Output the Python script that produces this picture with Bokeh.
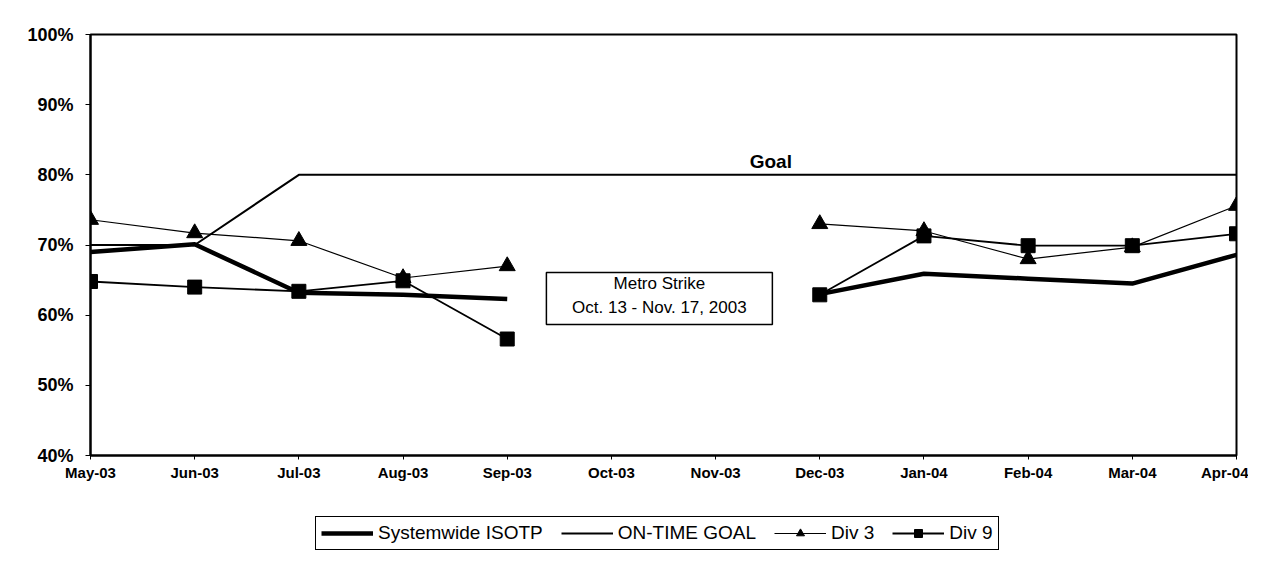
from bokeh.plotting import figure
from bokeh.layouts import column
from bokeh.models import (ColumnDataSource, FixedTicker, NumeralTickFormatter,
                          Range1d, Legend, LegendItem, Label, BoxAnnotation)
from bokeh.embed import file_html
from bokeh.resources import INLINE

nan = float("nan")
months = ["May-03", "Jun-03", "Jul-03", "Aug-03", "Sep-03", "Oct-03",
          "Nov-03", "Dec-03", "Jan-04", "Feb-04", "Mar-04", "Apr-04"]
systemwide = [0.690, 0.701, 0.632, 0.629, 0.623, nan, nan, 0.630, 0.659, 0.652, 0.645, 0.686]
goal = [0.70, 0.70, 0.80, 0.80, 0.80, 0.80, 0.80, 0.80, 0.80, 0.80, 0.80, 0.80]
div3 = [0.736, 0.717, 0.706, 0.653, 0.670, nan, nan, 0.730, 0.720, 0.680, 0.697, 0.756]
div9 = [0.648, 0.640, 0.634, 0.649, 0.566, nan, nan, 0.629, 0.713, 0.699, 0.699, 0.716]
y_ticks = [0.4, 0.5, 0.6, 0.7, 0.8, 0.9, 1.0]
series_names = ["Systemwide ISOTP", "ON-TIME GOAL", "Div 3", "Div 9"]

xs = list(range(len(months)))
src = ColumnDataSource(dict(x=xs, sys=systemwide, goal=goal, d3=div3, d9=div9))

FONT = "Liberation Sans"


def draw_series(fig):
    r_sys = fig.line("x", "sys", source=src, line_color="black", line_width=4.5)
    r_goal = fig.line("x", "goal", source=src, line_color="black", line_width=2)
    r_d3l = fig.line("x", "d3", source=src, line_color="black", line_width=1.2)
    r_d3m = fig.scatter("x", "d3", source=src, marker="triangle", size=16,
                        fill_color="black", line_color="black")
    r_d9l = fig.line("x", "d9", source=src, line_color="black", line_width=1.8)
    r_d9m = fig.scatter("x", "d9", source=src, marker="square", size=14,
                        fill_color="black", line_color="black")
    return [[r_sys], [r_goal], [r_d3l, r_d3m], [r_d9l, r_d9m]]


p = figure(width=1248, height=500, output_backend="svg", toolbar_location=None,
           x_range=Range1d(0, len(months) - 1), y_range=Range1d(0.4, 1.0),
           min_border_left=90, min_border_right=12, min_border_top=34,
           min_border_bottom=45)
p.background_fill_color = "white"
p.border_fill_color = "white"
p.xgrid.visible = False
p.ygrid.visible = False
p.outline_line_color = "black"
p.outline_line_width = 2

draw_series(p)

# axes
p.xaxis.ticker = FixedTicker(ticks=xs)
p.xaxis.major_label_overrides = {i: m for i, m in enumerate(months)}
p.xaxis.major_label_text_font = FONT
p.xaxis.major_label_text_font_style = "bold"
p.xaxis.major_label_text_font_size = "15px"
p.xaxis.major_label_text_color = "black"
p.xaxis.major_tick_out = 4
p.xaxis.major_tick_in = 0
p.xaxis.minor_tick_line_color = None
p.xaxis.major_label_standoff = 4
p.xaxis.axis_line_width = 2
p.xaxis.axis_line_color = "black"

p.yaxis.ticker = FixedTicker(ticks=y_ticks)
p.yaxis.formatter = NumeralTickFormatter(format="0%")
p.yaxis.major_label_text_font = FONT
p.yaxis.major_label_text_font_style = "bold"
p.yaxis.major_label_text_font_size = "18px"
p.yaxis.major_label_text_color = "black"
p.yaxis.major_tick_out = 5
p.yaxis.major_tick_in = 0
p.yaxis.minor_tick_line_color = None
p.yaxis.major_label_standoff = 12
p.yaxis.axis_line_width = 2
p.yaxis.axis_line_color = "black"

# annotations
p.add_layout(Label(x=6.53, y=0.819, text="Goal", text_font=FONT,
                   text_font_style="bold", text_font_size="19px",
                   text_align="center", text_baseline="middle", text_color="black"))
p.add_layout(BoxAnnotation(left=4.376, right=6.545, top=0.6608, bottom=0.5867,
                           fill_color="white", fill_alpha=1.0,
                           line_color="black", line_alpha=1.0, line_width=1.5))
p.add_layout(Label(x=5.46, y=0.645, text="Metro Strike", text_font=FONT,
                   text_font_size="17px", text_align="center",
                   text_baseline="middle", text_color="black"))
p.add_layout(Label(x=5.46, y=0.611, text="Oct. 13 - Nov. 17, 2003", text_font=FONT,
                   text_font_size="17px", text_align="center",
                   text_baseline="middle", text_color="black"))

# legend strip below the chart (frame aligned with the chart above)
p2 = figure(width=1248, height=54, output_backend="svg", toolbar_location=None,
            x_range=Range1d(-30, -20), y_range=Range1d(-30, -20),
            x_axis_location=None, y_axis_location=None, min_border=0)
p2.xgrid.visible = False
p2.ygrid.visible = False
p2.outline_line_color = None
p2.background_fill_color = "white"
p2.border_fill_color = "white"
groups = draw_series(p2)

legend = Legend(items=[LegendItem(label=n, renderers=g) for n, g in zip(series_names, groups)],
                orientation="horizontal", location=(225, 4))
legend.label_text_font = FONT
legend.label_text_font_size = "19px"
legend.label_text_color = "black"
legend.glyph_width = 52
legend.glyph_height = 20
legend.label_standoff = 5
legend.spacing = 18
legend.padding = 5
legend.margin = 0
legend.border_line_color = "black"
legend.border_line_width = 1.5
legend.border_line_alpha = 1.0
legend.background_fill_color = "white"
p2.add_layout(legend)

layout = column(p, p2, spacing=0)
open("out.html", "w").write(file_html(layout, INLINE))
